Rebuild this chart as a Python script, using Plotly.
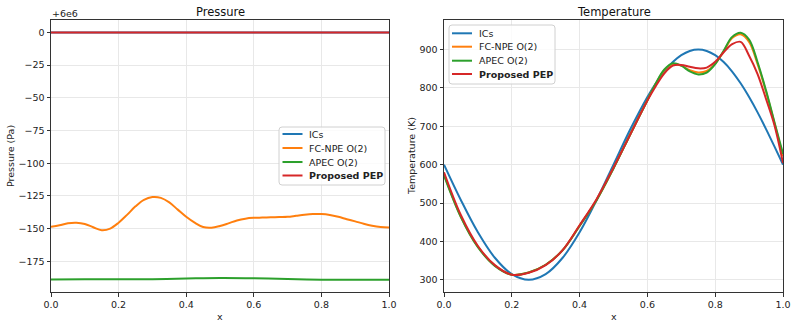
import plotly.graph_objects as go

# ---- data ----
P_OFFSET = 6e6  # matplotlib offset text "+6e6"

# pressure, deviation from 6e6 Pa
x_p = [i * 0.025 for i in range(41)]
p_fcnpe = [-148.7, -147.5, -146.0, -145.6, -146.5, -149.0, -151.2, -150.0, -145.5, -139.5,
           -133.0, -128.0, -125.9, -126.5, -130.0, -135.5, -141.0, -145.5, -148.8, -149.3,
           -148.0, -146.0, -143.8, -142.4, -141.8, -141.6, -141.4, -141.2, -141.0, -140.2,
           -139.4, -138.9, -138.9, -139.6, -141.0, -142.8, -144.5, -146.3, -147.8, -148.8,
           -149.2]
x_p_coarse = [0.0, 0.1, 0.2, 0.3, 0.4, 0.5, 0.6, 0.7, 0.8, 0.9, 1.0]
p_apec = [-189.0, -188.8, -188.7, -188.7, -188.2, -187.8, -188.0, -188.6, -189.1, -189.2, -189.1]
p_ics = [0.0] * 11
p_pep = [0.0] * 11

# temperature (K)
x_t = [0.0, 0.05, 0.1, 0.15, 0.2, 0.25, 0.3, 0.35, 0.4, 0.45, 0.5, 0.55, 0.6,
       0.625, 0.65, 0.675, 0.7, 0.725, 0.75, 0.775, 0.8, 0.825, 0.85, 0.875,
       0.9, 0.925, 0.95, 0.975, 1.0]
t_ics = [600.0, 507.3, 423.7, 357.3, 314.7, 300.0, 314.7, 357.3, 423.7, 507.3, 600.0, 692.7, 776.3,
         812.1, 842.7, 867.3, 885.3, 896.3, 900.0, 896.3, 885.3, 867.3, 842.7, 812.1,
         776.3, 736.2, 692.7, 646.9, 600.0]
t_fcnpe = [575, 464, 386, 337, 313, 319, 339, 377, 441, 508, 591, 680, 768,
           811, 846, 862, 858, 846, 840, 844, 863, 895, 930, 940,
           920, 862, 790, 708, 622]
t_apec = [572, 463, 385, 336, 313, 319, 339, 377, 440, 507, 590, 680, 768,
          812, 848, 864, 858, 843, 835, 840, 862, 897, 933, 944,
          926, 867, 793, 710, 628]
t_pep = [580, 468, 388, 338, 313, 318, 338, 377, 442, 510, 592, 680, 767,
         805, 838, 858, 860, 855, 851, 853, 868, 893, 914, 920,
         884, 836, 771, 702, 604]

names = ['ICs', 'FC-NPE O(2)', 'APEC O(2)', '<b>Proposed PEP</b>']
colors = ['#1f77b4', '#ff7f0e', '#2ca02c', '#d62728']

W, H = 797, 327
FONT = 'DejaVu Sans, sans-serif'
TXT = '#222222'


def px(x):
    return x / W


def py(y):
    return 1 - y / H


fig = go.Figure()

# pressure panel
p_series = [(x_p_coarse, p_ics), (x_p, p_fcnpe), (x_p_coarse, p_apec), (x_p_coarse, p_pep)]
for (xs, ys), name, c in zip(p_series, names, colors):
    fig.add_trace(go.Scatter(x=xs, y=ys, mode='lines', name=name, showlegend=False,
                             line=dict(color=c, width=2, shape='spline'), xaxis='x', yaxis='y'))

# temperature panel
for ys, name, c in zip([t_ics, t_fcnpe, t_apec, t_pep], names, colors):
    fig.add_trace(go.Scatter(x=x_t, y=ys, mode='lines', name=name, showlegend=False,
                             line=dict(color=c, width=2, shape='spline'), xaxis='x2', yaxis='y2'))

axis_style = dict(
    showline=True, mirror=True, linecolor='#333333', linewidth=1,
    ticks='outside', ticklen=3.5, tickcolor='#333333', automargin=False,
    showgrid=True, gridcolor='#e8e8e8', gridwidth=1, zeroline=False,
    tickfont=dict(size=9.5, color=TXT),
)
xticks = [0.0, 0.2, 0.4, 0.6, 0.8, 1.0]

shapes = []
annotations = []


def add_legend(x0, y0, x1, y1, line_x0, line_x1, text_x, rows):
    # matplotlib-like legend box (rounded) built from shapes + annotations
    r = 3
    path = (f'M {px(x0 + r)},{py(y0)} L {px(x1 - r)},{py(y0)} Q {px(x1)},{py(y0)} {px(x1)},{py(y0 + r)} '
            f'L {px(x1)},{py(y1 - r)} Q {px(x1)},{py(y1)} {px(x1 - r)},{py(y1)} '
            f'L {px(x0 + r)},{py(y1)} Q {px(x0)},{py(y1)} {px(x0)},{py(y1 - r)} '
            f'L {px(x0)},{py(y0 + r)} Q {px(x0)},{py(y0)} {px(x0 + r)},{py(y0)} Z')
    shapes.append(dict(type='path', path=path, xref='paper', yref='paper',
                       fillcolor='rgba(255,255,255,0.8)', line=dict(color='#d0d0d0', width=1)))
    for name, c, yy in zip(names, colors, rows):
        shapes.append(dict(type='line', xref='paper', yref='paper', x0=px(line_x0), x1=px(line_x1),
                           y0=py(yy), y1=py(yy), line=dict(color=c, width=2)))
        annotations.append(dict(text=name, x=px(text_x), y=py(yy), xref='paper', yref='paper',
                                xanchor='left', yanchor='middle', showarrow=False,
                                font=dict(size=9.5, color=TXT)))


add_legend(279, 127, 385, 185, 282.5, 302.5, 307, [134, 148, 162, 175.5])
add_legend(449, 25, 555, 84, 452, 472, 477, [33.3, 46.7, 60.7, 74])

annotations += [
    dict(text='Pressure', x=px(220), y=py(12), xref='paper', yref='paper', xanchor='center', yanchor='middle',
         showarrow=False, font=dict(size=11.5, color='#111111')),
    dict(text='Temperature', x=px(613.5), y=py(12), xref='paper', yref='paper', xanchor='center', yanchor='middle',
         showarrow=False, font=dict(size=11.5, color='#111111')),
    dict(text='+' + f'{P_OFFSET:.0e}'.replace('e+0', 'e'), x=px(50), y=py(13), xref='paper', yref='paper',
         xanchor='left', yanchor='middle', showarrow=False, font=dict(size=9.5, color=TXT)),
    dict(text='x', x=px(220), y=py(316), xref='paper', yref='paper', xanchor='center', yanchor='middle',
         showarrow=False, font=dict(size=9.5, color=TXT)),
    dict(text='x', x=px(613.5), y=py(316), xref='paper', yref='paper', xanchor='center', yanchor='middle',
         showarrow=False, font=dict(size=9.5, color=TXT)),
    dict(text='Pressure (Pa)', x=px(10), y=py(156), xref='paper', yref='paper', xanchor='center', yanchor='middle',
         textangle=-90, showarrow=False, font=dict(size=9.5, color=TXT)),
    dict(text='Temperature (K)', x=px(411), y=py(156), xref='paper', yref='paper', xanchor='center',
         yanchor='middle', textangle=-90, showarrow=False, font=dict(size=9.5, color=TXT)),
]

fig.update_layout(
    width=W, height=H,
    margin=dict(l=0, r=0, t=0, b=0),
    plot_bgcolor='white', paper_bgcolor='white',
    font=dict(family=FONT, color=TXT),
    xaxis=dict(domain=[px(51), px(389)], range=[0, 1], tickvals=xticks, tickformat='.1f', anchor='y', **axis_style),
    yaxis=dict(domain=[py(292), py(20)], range=[-198.5, 9.5], tickvals=[0, -25, -50, -75, -100, -125, -150, -175],
               anchor='x', **axis_style),
    xaxis2=dict(domain=[px(444), px(783)], range=[0, 1], tickvals=xticks, tickformat='.1f', anchor='y2',
                **axis_style),
    yaxis2=dict(domain=[py(292), py(20)], range=[268, 977], tickvals=[300, 400, 500, 600, 700, 800, 900],
                anchor='x2', **axis_style),
    shapes=shapes,
    annotations=annotations,
)

# the page body has a default 8px margin; remove it so the figure fills the window
fig.write_html('out.html', config={'displayModeBar': False},
               post_script="document.body.style.margin='0';")
